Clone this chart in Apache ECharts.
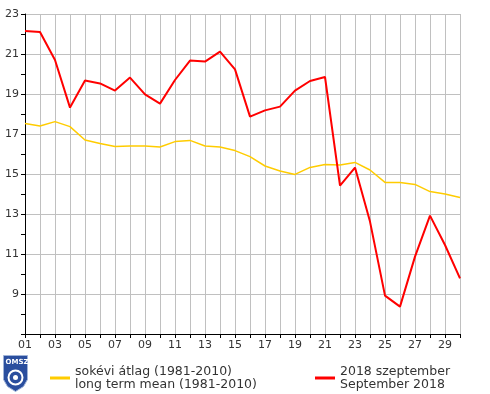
<!DOCTYPE html>
<html><head><meta charset="utf-8">
<script src="https://cdn.jsdelivr.net/npm/echarts@6/dist/echarts.min.js"></script>
<style>html,body{margin:0;padding:0;background:#fff}#c{width:490px;height:394px}</style>
</head><body><div id="c"></div>
<script>
const days = [1,2,3,4,5,6,7,8,9,10,11,12,13,14,15,16,17,18,19,20,21,22,23,24,25,26,27,28,29,30];
const meanValues = [17.53,17.4,17.62,17.37,16.7,16.53,16.37,16.4,16.4,16.35,16.62,16.68,16.4,16.35,16.17,15.87,15.4,15.15,14.98,15.33,15.48,15.45,15.58,15.2,14.58,14.58,14.48,14.12,14.0,13.83];
const sep2018Values = [22.15,22.1,20.7,18.32,19.67,19.53,19.17,19.82,18.98,18.52,19.7,20.67,20.62,21.12,20.23,17.87,18.18,18.37,19.17,19.65,19.85,14.42,15.32,12.62,8.92,8.37,10.87,12.92,11.45,9.78];
const meanName = 'sokévi átlag (1981-2010)\nlong term mean (1981-2010)';
const sepName = '2018 szeptember\nSeptember 2018';

const chart = echarts.init(document.getElementById('c'), null, {renderer:'canvas'});
const font = 'DejaVu Sans';
chart.setOption({
  animation:false,
  backgroundColor:'#fff',
  textStyle:{fontFamily:font},
  grid:{left:25, top:14, right:30, bottom:60, containLabel:false},
  xAxis:{type:'value', min:1, max:30, interval:1,
    axisLine:{onZero:false, lineStyle:{color:'#000', width:1}},
    axisTick:{show:true, length:4, lineStyle:{color:'#000'}},
    axisLabel:{color:'#333', fontSize:11, fontFamily:font, margin:6,
      formatter:v => (v % 2 === 1) ? String(v).padStart(2,'0') : ''},
    splitLine:{show:true, lineStyle:{color:'#c0c0c0', width:1}}},
  yAxis:{type:'value', min:7, max:23, interval:2,
    axisLine:{show:true, lineStyle:{color:'#000', width:1}},
    axisTick:{show:true, length:4, lineStyle:{color:'#000'}},
    minorTick:{show:true, splitNumber:2, length:4, lineStyle:{color:'#000'}},
    axisLabel:{color:'#333', fontSize:11, fontFamily:font, margin:6, showMinLabel:false},
    splitLine:{show:true, lineStyle:{color:'#c0c0c0', width:1}}},
  legend:[
    {left:45, top:360, data:[meanName], icon:'rect', itemWidth:20, itemHeight:3, itemGap:10,
     textStyle:{color:'#333', fontSize:12.5, fontFamily:font, lineHeight:13}},
    {left:310, top:360, data:[sepName], icon:'rect', itemWidth:20, itemHeight:3, itemGap:10,
     textStyle:{color:'#333', fontSize:12.5, fontFamily:font, lineHeight:13}}
  ],
  graphic:[
    {type:'group', left:3, top:355, children:[
      {type:'polygon', shape:{points:[[0,0],[24,0],[24,24],[20,31],[12,36],[4,31],[0,24]]}, style:{fill:'#2a4e9e', stroke:'#9fb3d8', lineWidth:1}},
      {type:'text', x:2, y:3, style:{text:'OMSZ', fill:'#fff', font:'bold 7px DejaVu Sans'}},
      {type:'circle', shape:{cx:12, cy:22, r:7}, style:{fill:'none', stroke:'#fff', lineWidth:2}},
      {type:'circle', shape:{cx:12, cy:22, r:2.5}, style:{fill:'#fff'}}
    ]}
  ],
  series:[
    {name:meanName, type:'line', data:days.map((d,i)=>[d, meanValues[i]]), symbol:'none',
     lineStyle:{color:'#ffcc00', width:1.5}, itemStyle:{color:'#ffcc00'}},
    {name:sepName, type:'line', data:days.map((d,i)=>[d, sep2018Values[i]]), symbol:'none',
     lineStyle:{color:'#ff0000', width:2}, itemStyle:{color:'#ff0000'}}
  ]
});
</script></body></html>
